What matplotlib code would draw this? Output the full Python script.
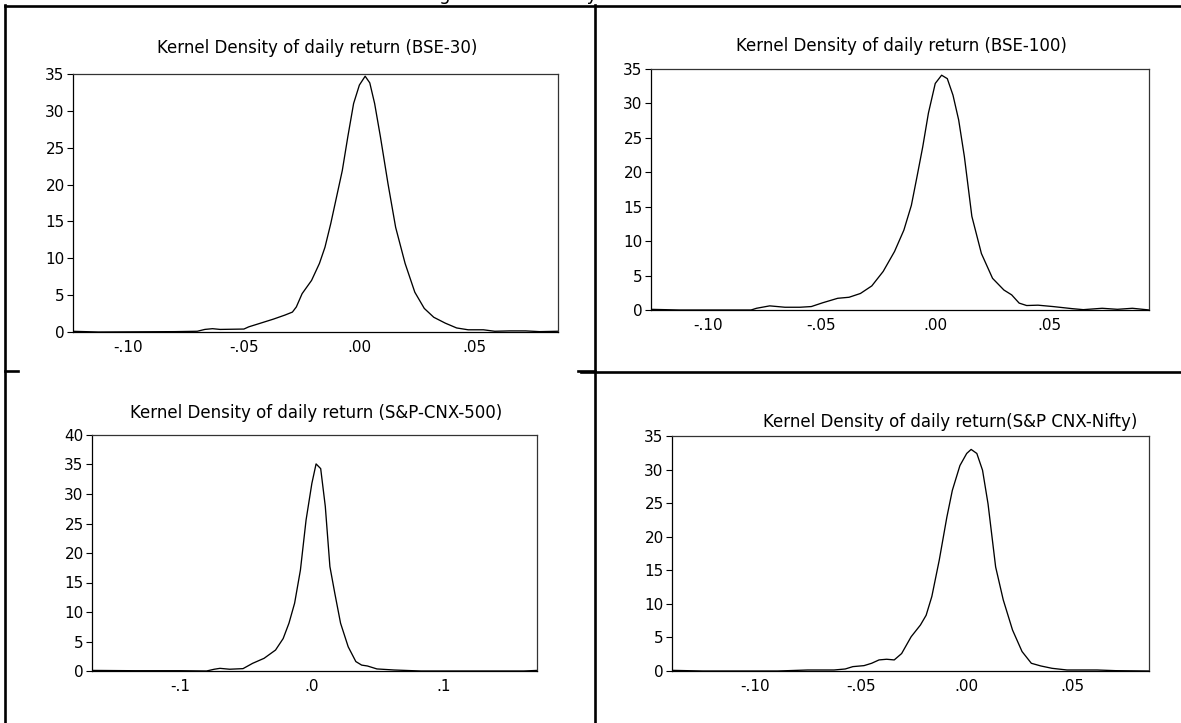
import matplotlib.pyplot as plt
from matplotlib.lines import Line2D

plt.rcParams['font.family'] = ['DejaVu Sans']

W, H = 1181, 723

# =====================
# data
# =====================
bse30_x = [-0.1247, -0.113, -0.080, -0.0702, -0.0669, -0.0636, -0.0603, -0.050, -0.0479, -0.0438,
           -0.0372, -0.0322, -0.029, -0.0273, -0.0248, -0.0207, -0.0173, -0.0149, -0.0124, -0.0099,
           -0.0074, -0.005, -0.0025, 0.0, 0.0025, 0.0045, 0.0066, 0.0091, 0.0124, 0.0157,
           0.0198, 0.024, 0.0281, 0.0322, 0.0372, 0.0421, 0.0471, 0.0537, 0.0586, 0.065,
           0.072, 0.078, 0.086]
bse30_y = [0.1, 0.0, 0.05, 0.1, 0.35, 0.45, 0.35, 0.4, 0.7, 1.1,
           1.75, 2.3, 2.7, 3.4, 5.2, 7.0, 9.3, 11.5, 14.7, 18.3,
           21.9, 26.5, 31.0, 33.5, 34.7, 33.8, 31.0, 26.5, 20.1, 14.2,
           9.3, 5.4, 3.2, 2.0, 1.2, 0.55, 0.3, 0.3, 0.1, 0.15,
           0.15, 0.05, 0.1]

bse100_x = [-0.1254, -0.1126, -0.081, -0.0786, -0.0728, -0.0661, -0.0595, -0.0545, -0.0495, -0.0429,
            -0.0379, -0.0329, -0.0279, -0.0229, -0.0179, -0.0138, -0.0105, -0.008, -0.0055, -0.003,
            0.0, 0.0028, 0.0053, 0.0078, 0.0103, 0.0128, 0.0161, 0.0203, 0.0252, 0.0302,
            0.0336, 0.0369, 0.0402, 0.0452, 0.0518, 0.0601, 0.0651, 0.0734, 0.0801, 0.0867,
            0.0942]
bse100_y = [0.1, 0.0, 0.0, 0.25, 0.6, 0.4, 0.4, 0.5, 1.05, 1.7,
            1.85, 2.4, 3.5, 5.6, 8.5, 11.6, 15.2, 19.4, 23.7, 28.6,
            32.9, 34.1, 33.6, 31.2, 27.6, 22.3, 13.6, 8.2, 4.6, 2.9,
            2.2, 1.0, 0.65, 0.7, 0.5, 0.2, 0.05, 0.25, 0.1, 0.25,
            0.0]

cnx500_x = [-0.1672, -0.135, -0.1, -0.08, -0.0741, -0.0698, -0.0625, -0.0523, -0.045, -0.0363,
            -0.0276, -0.0218, -0.0174, -0.0131, -0.0087, -0.0044, 0.0, 0.0032, 0.0067, 0.0102,
            0.0137, 0.0174, 0.0218, 0.0276, 0.0334, 0.0378, 0.0422, 0.0494, 0.0625, 0.0828,
            0.126, 0.161, 0.171]
cnx500_y = [0.1, 0.05, 0.05, 0.0, 0.3, 0.45, 0.3, 0.4, 1.3, 2.15,
            3.55, 5.5, 8.1, 11.5, 17.1, 25.6, 31.8, 35.1, 34.3, 27.9,
            17.7, 13.2, 8.1, 4.1, 1.6, 1.0, 0.85, 0.35, 0.17, 0.0,
            0.0, 0.0, 0.1]

nifty_x = [-0.1397, -0.125, -0.0895, -0.0753, -0.0628, -0.0575, -0.0539, -0.0486, -0.045, -0.0415,
           -0.0379, -0.0343, -0.0308, -0.0263, -0.0219, -0.0192, -0.0165, -0.013, -0.0094, -0.0068,
           -0.0032, 0.0, 0.0021, 0.0048, 0.0075, 0.0101, 0.0137, 0.0173, 0.0217, 0.0262,
           0.0306, 0.0351, 0.0404, 0.0475, 0.0617, 0.0706, 0.0861]
nifty_y = [0.1, 0.0, 0.0, 0.15, 0.15, 0.3, 0.65, 0.8, 1.15, 1.65,
           1.75, 1.65, 2.6, 5.1, 6.85, 8.3, 11.1, 16.5, 22.9, 26.9,
           30.6, 32.4, 33.0, 32.4, 29.9, 24.9, 15.5, 10.6, 6.1, 2.9,
           1.15, 0.75, 0.4, 0.15, 0.15, 0.05, 0.0]

titles = ["Kernel Density of daily return (BSE-30)",
          "Kernel Density of daily return (BSE-100)",
          "Kernel Density of daily return (S&P-CNX-500)",
          "Kernel Density of daily return(S&P CNX-Nifty)"]

xticks_2dp = [-0.10, -0.05, 0.00, 0.05]
xlabels_2dp = ["-.10", "-.05", ".00", ".05"]
xticks_1dp = [-0.1, 0.0, 0.1]
xlabels_1dp = ["-.1", ".0", ".1"]

caption = "Figure 1: Normality of the return series"

# =====================
# figure + layout (pixels)
# =====================
fig = plt.figure(figsize=(W / 100, H / 100), dpi=100)


def px_axes(x0, y0, x1, y1):
    return fig.add_axes([x0 / W, 1 - y1 / H, (x1 - x0) / W, (y1 - y0) / H])


def px_line(xs, ys, lw=1.9):
    fig.add_artist(Line2D([x / W for x in xs], [1 - y / H for y in ys],
                          transform=fig.transFigure, color="black", lw=lw))


panels = [
    # box (x0, y0, x1, y1), title pos, x data, y data, xlim, ymax, ticks, labels
    ((73, 74, 558, 332), (317, 48), bse30_x, bse30_y, (-0.124, 0.086), 35, xticks_2dp, xlabels_2dp),
    ((651, 69, 1149, 310), (901, 46), bse100_x, bse100_y, (-0.125, 0.094), 35, xticks_2dp, xlabels_2dp),
    ((92, 435, 537, 671), (316, 413), cnx500_x, cnx500_y, (-0.167, 0.171), 40, xticks_1dp, xlabels_1dp),
    ((672, 436, 1149, 671), (950, 422), nifty_x, nifty_y, (-0.1395, 0.0863), 35, xticks_2dp, xlabels_2dp),
]

for i, (box, tpos, xs, ys, xlim, ymax, xt, xl) in enumerate(panels):
    ax = px_axes(*box)
    ax.plot(xs, ys, color="black", lw=0.95)
    ax.set_xlim(*xlim)
    ax.set_ylim(0, ymax)
    ax.set_xticks(xt)
    ax.set_xticklabels(xl)
    ax.set_yticks(range(0, ymax + 1, 5))
    ax.tick_params(axis="y", direction="out", length=4, width=0.8, pad=2, labelsize=11)
    ax.tick_params(axis="x", length=0, pad=6, labelsize=11)
    for s in ax.spines.values():
        s.set_linewidth(0.9)
        s.set_color("black")
    ax.spines["right"].set_color("#333333")
    ax.spines["top"].set_color("#333333")
    fig.text(tpos[0] / W, 1 - tpos[1] / H, titles[i], ha="center", va="center", fontsize=12)

# =====================
# table borders of the source document
# =====================
px_line([5, 1181], [5.5, 5.5])
px_line([5, 5], [5, 723])
px_line([594.5, 594.5], [5, 723])
px_line([581, 1181], [372, 372])
px_line([5, 18], [371, 371])
px_line([578, 594.5], [371, 371])

# caption sits above the crop, only its lower edge shows
fig.text(600 / W, 1 - 0.5 / H, caption, ha="center", va="baseline", fontsize=13)

fig.savefig("out.png", dpi=100)
